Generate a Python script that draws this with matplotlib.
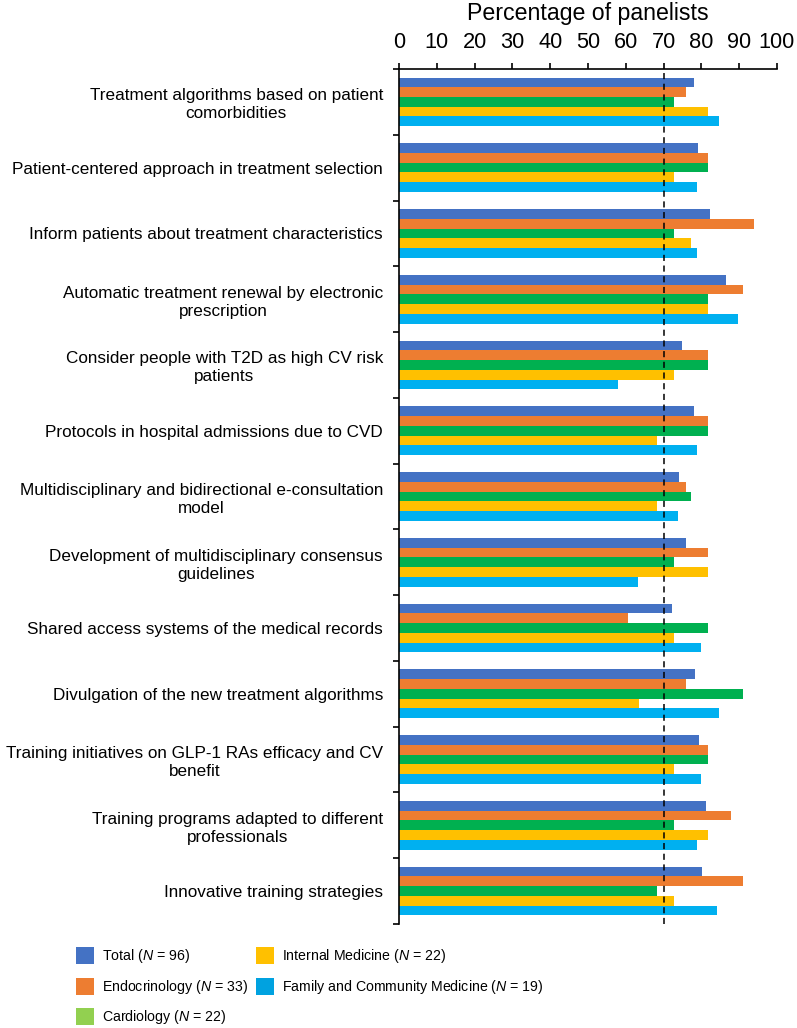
import matplotlib
matplotlib.use("Agg")
import matplotlib.pyplot as plt
import numpy as np
from matplotlib.patches import Patch

plt.rcParams['font.family'] = ['Liberation Sans', 'DejaVu Sans']
plt.rcParams['mathtext.fontset'] = 'custom'
plt.rcParams['mathtext.it'] = 'Liberation Sans:italic'
plt.rcParams['mathtext.rm'] = 'Liberation Sans'

categories = [
    "Treatment algorithms based on patient\ncomorbidities",
    "Patient-centered approach in treatment selection",
    "Inform patients about treatment characteristics",
    "Automatic treatment renewal by electronic\nprescription",
    "Consider people with T2D as high CV risk\npatients",
    "Protocols in hospital admissions due to CVD",
    "Multidisciplinary and bidirectional e-consultation\nmodel",
    "Development of multidisciplinary consensus\nguidelines",
    "Shared access systems of the medical records",
    "Divulgation of the new treatment algorithms",
    "Training initiatives on GLP-1 RAs efficacy and CV\nbenefit",
    "Training programs adapted to different\nprofessionals",
    "Innovative training strategies",
]

total = [78.1, 79.2, 82.3, 86.5, 75.0, 78.1, 74.0, 76.0, 72.3, 78.4, 79.4, 81.3, 80.2]
endocrinology = [75.8, 81.8, 93.9, 90.9, 81.8, 81.8, 75.8, 81.8, 60.6, 75.8, 81.8, 87.9, 90.9]
cardiology = [72.7, 81.8, 72.7, 81.8, 81.8, 81.8, 77.3, 72.7, 81.8, 90.9, 81.8, 72.7, 68.2]
internal_medicine = [81.8, 72.7, 77.3, 81.8, 72.7, 68.2, 68.2, 81.8, 72.7, 63.6, 72.7, 81.8, 72.7]
family_medicine = [84.6, 78.9, 78.9, 89.8, 57.9, 78.9, 73.7, 63.2, 79.9, 84.6, 79.9, 78.9, 84.2]

series = [total, endocrinology, cardiology, internal_medicine, family_medicine]
legend_labels = [r"Total ($N$ = 96)", r"Endocrinology ($N$ = 33)", r"Cardiology ($N$ = 22)",
                 r"Internal Medicine ($N$ = 22)", r"Family and Community Medicine ($N$ = 19)"]
bar_colors = ["#4472C4", "#ED7D31", "#00B050", "#FFC000", "#00B0F0"]
legend_colors = ["#4472C4", "#ED7D31", "#92D050", "#FFC000", "#00A2E0"]
threshold = 70

fig = plt.figure(figsize=(7.97, 10.28), dpi=100)
ax = fig.add_axes([0.5006, 0.1012, 0.4743, 0.8317])

n = len(categories)
y = np.arange(n)
bh = 0.148
offsets = (np.arange(5) - 2) * bh
for vals, off, c in zip(series, offsets, bar_colors):
    ax.barh(y + off, vals, height=bh, color=c, edgecolor='none')

ax.set_xlim(0, 100)
ax.set_ylim(n - 0.5, -0.5)
ax.axvline(threshold, color='black', linestyle=(0, (4, 3)), linewidth=1.1)

ax.xaxis.set_ticks_position('top')
ax.xaxis.set_label_position('top')
ax.set_xticks(np.arange(0, 101, 10))
ax.tick_params(axis='x', direction='out', length=4.3, width=1.2, labelsize=15.7, pad=7)
ax.set_xlabel("Percentage of panelists", fontsize=16.7, labelpad=9)

ax.set_yticks(np.arange(-0.5, n, 1.0))
ax.set_yticklabels([])
ax.tick_params(axis='y', direction='out', length=4, width=1.2)
ax.set_yticks(y, minor=True)
ax.set_yticklabels(categories, minor=True, fontsize=12.3, ha='right',
                   multialignment='center', linespacing=1.25)
ax.tick_params(axis='y', which='minor', length=0, pad=11.5)

for s in ['right', 'bottom']:
    ax.spines[s].set_visible(False)
for s in ['left', 'top']:
    ax.spines[s].set_linewidth(1.2)

handles = [Patch(facecolor=c, edgecolor='none') for c in legend_colors]
fs = 10.2
leg_kw = dict(loc='upper left', frameon=False, borderpad=0, borderaxespad=0,
              prop={'size': fs},
              handlelength=1.27, handleheight=1.5, handletextpad=0.6,
              labelspacing=0.86)
fig.legend(handles[:3], legend_labels[:3], bbox_to_anchor=(76 / 797, 1 - 947 / 1028), **leg_kw)
fig.legend(handles[3:], legend_labels[3:], bbox_to_anchor=(256 / 797, 1 - 947 / 1028), **leg_kw)

fig.savefig("out.png", dpi=100)
